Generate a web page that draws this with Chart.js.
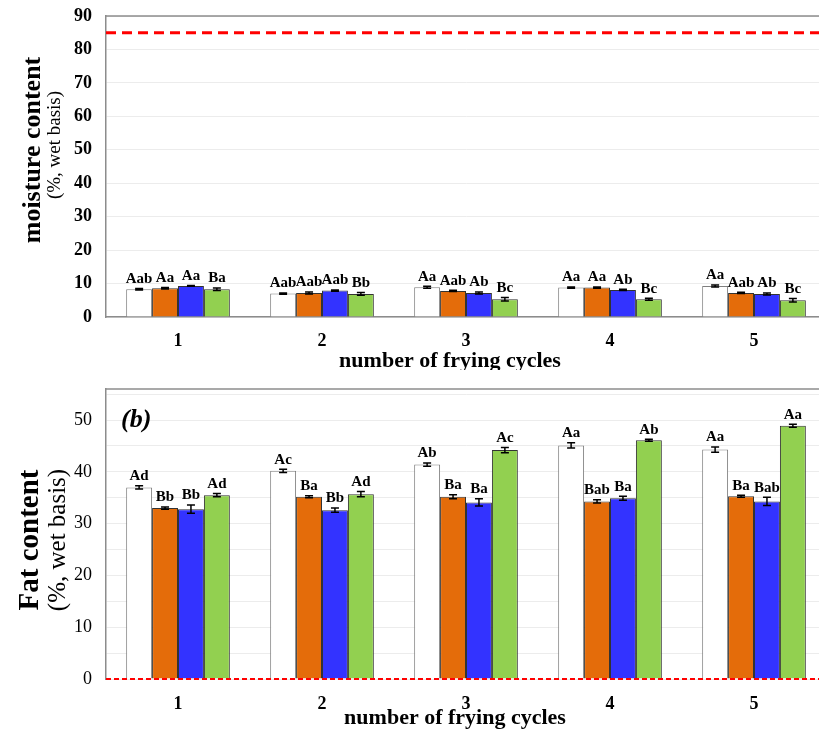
<!DOCTYPE html>
<html>
<head>
<meta charset="utf-8">
<script src="https://cdn.jsdelivr.net/npm/chart.js@4/dist/chart.umd.min.js"></script>
<style>
  html, body { margin: 0; padding: 0; background: #fff; overflow: hidden; width: 819px; height: 733px; }
  #moisture { position: absolute; left: 0; top: 0; }
  #fat { position: absolute; left: 0; top: 370px; }
</style>
</head>
<body>
<canvas id="moisture" width="830" height="370"></canvas>
<canvas id="fat" width="830" height="363"></canvas>
<script>
// frying cycles on the x axis
const cycles = ['1', '2', '3', '4', '5'];
const seriesNames = ['Series 1', 'Series 2', 'Series 3', 'Series 4'];
const seriesColors = ['#ffffff', '#e46c0a', '#3333ff', '#92d050'];
const seriesBorders = ['#7f7f7f', '#333333', '#333333', '#333333'];

// (a) moisture content
const moistureS1 = [8.3, 7.0, 8.9, 8.8, 9.3];
const moistureS2 = [8.6, 7.2, 7.8, 8.8, 7.2];
const moistureS3 = [9.3, 7.9, 7.2, 8.1, 6.9];
const moistureS4 = [8.3, 6.9, 5.3, 5.3, 5.0];
const moistureErrS1 = [0.2, 0.2, 0.3, 0.2, 0.3];
const moistureErrS2 = [0.2, 0.3, 0.2, 0.2, 0.2];
const moistureErrS3 = [0.1, 0.2, 0.3, 0.2, 0.3];
const moistureErrS4 = [0.4, 0.4, 0.5, 0.3, 0.5];
const moistureLetS1 = ['Aab', 'Aab', 'Aa', 'Aa', 'Aa'];
const moistureLetS2 = ['Aa', 'Aab', 'Aab', 'Aa', 'Aab'];
const moistureLetS3 = ['Aa', 'Aab', 'Ab', 'Ab', 'Ab'];
const moistureLetS4 = ['Ba', 'Bb', 'Bc', 'Bc', 'Bc'];
const moistureRef = 85;
const moistureTicks = [0, 10, 20, 30, 40, 50, 60, 70, 80, 90];

// (b) fat content
const fatS1 = [37.0, 40.2, 41.4, 45.1, 44.3];
const fatS2 = [33.0, 35.2, 35.2, 34.3, 35.3];
const fatS3 = [32.8, 32.6, 34.1, 34.9, 34.3];
const fatS4 = [35.5, 35.7, 44.2, 46.1, 48.9];
const fatErrS1 = [0.3, 0.3, 0.3, 0.5, 0.5];
const fatErrS2 = [0.2, 0.2, 0.4, 0.3, 0.2];
const fatErrS3 = [0.8, 0.4, 0.7, 0.4, 0.8];
const fatErrS4 = [0.3, 0.5, 0.5, 0.2, 0.3];
const fatLetS1 = ['Ad', 'Ac', 'Ab', 'Aa', 'Aa'];
const fatLetS2 = ['Bb', 'Ba', 'Ba', 'Bab', 'Ba'];
const fatLetS3 = ['Bb', 'Bb', 'Ba', 'Ba', 'Bab'];
const fatLetS4 = ['Ad', 'Ad', 'Ac', 'Ab', 'Aa'];
const fatRef = 0;
const fatTicks = [0, 10, 20, 30, 40, 50];

const SERIF = "'Liberation Serif', 'Times New Roman', serif";

// error bars, letters, reference line and titles
const extrasPlugin = {
  id: 'extras',
  afterDatasetsDraw(chart, args, o) {
    const ctx = chart.ctx;
    const area = chart.chartArea;
    const y = chart.scales.y;
    ctx.save();

    // plot top frame
    ctx.strokeStyle = '#8c8c8c';
    ctx.lineWidth = 1.5;
    ctx.beginPath();
    ctx.moveTo(area.left, area.top);
    ctx.lineTo(area.right, area.top);
    ctx.stroke();

    // reference line
    const ry = y.getPixelForValue(o.refValue);
    ctx.strokeStyle = '#ff0000';
    ctx.lineWidth = o.refWidth;
    ctx.setLineDash(o.refDash);
    ctx.beginPath();
    ctx.moveTo(area.left, ry);
    ctx.lineTo(area.right, ry);
    ctx.stroke();
    ctx.setLineDash([]);

    // error bars + letters
    chart.data.datasets.forEach((ds, i) => {
      const meta = chart.getDatasetMeta(i);
      meta.data.forEach((bar, j) => {
        const v = ds.data[j];
        const e = o.errors[i][j];
        const yt = y.getPixelForValue(v + e);
        const yb = y.getPixelForValue(v - e);
        ctx.strokeStyle = '#000';
        ctx.lineWidth = 1.5;
        ctx.beginPath();
        ctx.moveTo(bar.x, yt); ctx.lineTo(bar.x, yb);
        ctx.moveTo(bar.x - 4, yt); ctx.lineTo(bar.x + 4, yt);
        ctx.moveTo(bar.x - 4, yb); ctx.lineTo(bar.x + 4, yb);
        ctx.stroke();
        ctx.fillStyle = '#000';
        ctx.font = 'bold 15px ' + SERIF;
        ctx.textAlign = 'center';
        ctx.textBaseline = 'bottom';
        ctx.fillText(o.letters[i][j], bar.x, yt - 2);
      });
    });
    ctx.restore();
  },
  afterDraw(chart, args, o) {
    const ctx = chart.ctx;
    ctx.save();
    ctx.fillStyle = '#000';
    // y titles
    o.yTitles.forEach(t => {
      ctx.save();
      ctx.translate(t.x, t.y);
      ctx.rotate(-Math.PI / 2);
      ctx.font = t.font;
      ctx.textAlign = 'center';
      ctx.textBaseline = 'middle';
      ctx.fillText(t.text, 0, 0);
      ctx.restore();
    });
    // x title
    ctx.font = 'bold 22px ' + SERIF;
    ctx.textAlign = 'center';
    ctx.textBaseline = 'middle';
    ctx.fillText('number of frying cycles', o.xTitle.x, o.xTitle.y);
    if (o.panel) {
      ctx.font = 'italic bold 26px ' + SERIF;
      ctx.textAlign = 'left';
      ctx.fillText(o.panel.text, o.panel.x, o.panel.y);
    }
    ctx.restore();
  }
};

function makeDatasets(values) {
  return values.map((d, i) => ({
    label: seriesNames[i],
    data: d,
    backgroundColor: seriesColors[i],
    borderColor: seriesBorders[i],
    borderWidth: 1,
    categoryPercentage: 0.72,
    barPercentage: 1.0
  }));
}

function makeChart(id, cfg) {
  const canvas = document.getElementById(id);
  return new Chart(canvas.getContext('2d'), {
    type: 'bar',
    data: { labels: cycles, datasets: makeDatasets(cfg.values) },
    options: {
      responsive: false,
      animation: false,
      layout: { padding: { top: cfg.top, right: 4, left: 0, bottom: 0 } },
      plugins: {
        legend: { display: false },
        tooltip: { enabled: false },
        extras: cfg.extras
      },
      scales: {
        x: {
          grid: { display: false, drawTicks: false },
          border: { display: cfg.xBorder, color: '#8c8c8c', width: 1.5 },
          ticks: { padding: cfg.xPad, color: '#000', font: { family: SERIF, weight: 'bold', size: 18 } },
          afterFit: s => { s.height = cfg.xHeight; s.paddingLeft = 0; s.paddingRight = 0; }
        },
        y: {
          min: 0,
          max: cfg.max,
          afterBuildTicks: s => { s.ticks = cfg.gridValues.map(v => ({ value: v })); },
          ticks: {
            padding: 14,
            color: '#000',
            font: { family: SERIF, weight: cfg.yWeight, size: 18 },
            callback: v => (cfg.ticks.includes(v) ? String(v) : '')
          },
          grid: { color: '#ececec', drawTicks: false },
          border: { color: '#8c8c8c', width: 1.5 },
          afterFit: s => { s.width = 106; s.paddingTop = 0; s.paddingBottom = 0; }
        }
      }
    },
    plugins: [extrasPlugin]
  });
}

makeChart('moisture', {
  values: [moistureS1, moistureS2, moistureS3, moistureS4],
  top: 16, max: 90, xHeight: 53, xPad: 14, xBorder: true, yWeight: 'bold',
  ticks: moistureTicks,
  gridValues: moistureTicks,
  extras: {
    refValue: moistureRef, refWidth: 3, refDash: [10, 6],
    errors: [moistureErrS1, moistureErrS2, moistureErrS3, moistureErrS4],
    letters: [moistureLetS1, moistureLetS2, moistureLetS3, moistureLetS4],
    yTitles: [
      { text: 'moisture content', x: 33, y: 150, font: 'bold 26px ' + SERIF },
      { text: '(%, wet basis)', x: 55, y: 145, font: '19px ' + SERIF }
    ],
    xTitle: { x: 450, y: 361 }
  }
});

makeChart('fat', {
  values: [fatS1, fatS2, fatS3, fatS4],
  top: 19, max: 56, xHeight: 54, xPad: 15, xBorder: false, yWeight: 'normal',
  ticks: fatTicks,
  gridValues: [0, 5, 10, 15, 20, 25, 30, 35, 40, 45, 50, 55],
  extras: {
    refValue: fatRef, refWidth: 2, refDash: [5, 3],
    errors: [fatErrS1, fatErrS2, fatErrS3, fatErrS4],
    letters: [fatLetS1, fatLetS2, fatLetS3, fatLetS4],
    yTitles: [
      { text: 'Fat content', x: 31, y: 170, font: 'bold 29px ' + SERIF },
      { text: '(%, wet basis)', x: 58, y: 170, font: '25px ' + SERIF }
    ],
    xTitle: { x: 455, y: 348 },
    panel: { text: '(b)', x: 121, y: 50 }
  }
});
</script>
</body>
</html>
